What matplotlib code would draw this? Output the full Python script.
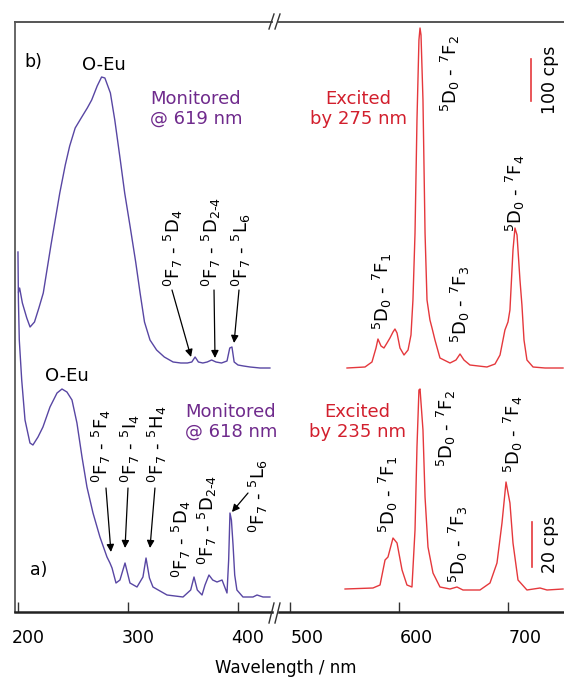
import matplotlib
matplotlib.use("Agg")
import matplotlib.pyplot as plt
import matplotlib.transforms as mtransforms
from matplotlib.lines import Line2D

plt.rcParams['font.family'] = ['DejaVu Sans']
plt.rcParams['mathtext.fontset'] = 'dejavusans'

# ---------------- data ----------------
# (a) excitation spectrum, monitored @ 618 nm (arbitrary units)
a_exc_nm = [200.0, 200.4, 201.2, 203.4, 206.4, 210.9, 213.6, 218.2, 222.7, 229.1,
            235.5, 240.0, 244.5, 249.1, 253.6, 258.2, 262.7, 268.2, 274.5, 280.9,
            283.6, 285.5, 289.1, 292.7, 297.3, 301.8, 308.2, 313.6, 316.4, 319.5,
            322.7, 335.5, 350.0, 357.0, 360.0, 363.0, 367.3, 370.0, 373.6, 377.0,
            380.9, 385.5, 390.0, 391.5, 392.7, 394.0, 395.5, 397.0, 399.0, 404.5,
            413.6, 417.3, 422.7, 429.0]
a_exc_int = [360, 312, 272, 232, 192, 169, 167, 175, 185, 205,
             219, 223, 220, 212, 189, 155, 125, 99, 75, 55,
             49, 44, 29, 32, 49, 29, 25, 35, 54, 34,
             25, 17, 15, 22, 35, 22, 17, 27, 37, 32,
             30, 32, 19, 52, 99, 92, 67, 37, 22, 15,
             15, 17, 15, 15]

# (b) excitation spectrum, monitored @ 619 nm (offset, arbitrary units)
b_exc_nm = [200.5, 201.5, 204, 208, 211, 215, 219, 223, 230, 238,
            243, 247, 252, 258, 263, 267, 272, 276, 279, 284, 288,
            293, 297, 302, 307, 311, 315, 320, 326, 333, 341,
            348, 354, 358, 361, 364, 368, 372, 376, 380, 385,
            390, 392.5, 394.5, 396.5, 400, 405, 411, 420, 429]
b_exc_int = [320, 324, 309, 294, 285, 290, 304, 319, 367, 419,
             447, 466, 484, 495, 504, 512, 526, 535, 534, 519, 492,
             452, 419, 385, 350, 319, 290, 272, 262, 255, 250,
             249, 249, 250, 255, 250, 249, 250, 252, 250, 249,
             251, 264, 265, 250, 247, 246, 245, 244, 244]

# (a) emission spectrum, excited by 235 nm
a_em_nm = [550.5, 576.1, 582.6, 587.2, 589.9, 594.5, 598.2, 602.8, 607.3, 611.9,
           614.7, 616.5, 618.3, 619.3, 622.0, 623.9, 626.6, 631.2, 637.6, 646.8,
           653.2, 658.7, 674.3, 683.5, 689.9, 694.5, 698.2, 701.8, 704.6, 709.2,
           717.4, 729.4, 735.8, 750.5]
a_em_int = [23, 24, 27, 52, 55, 74, 69, 42, 27, 25,
            82, 165, 222, 223, 182, 115, 65, 39, 25, 23,
            25, 22, 22, 29, 49, 89, 130, 109, 69, 32,
            22, 24, 22, 23]

# (b) emission spectrum, excited by 275 nm (offset)
b_em_nm = [552.3, 568.8, 575.2, 578.9, 580.7, 583.5, 586.2, 589.0, 591.7, 594.5,
           596.3, 598.2, 600.9, 604.6, 608.3, 611.0, 612.8, 614.7, 616.5, 618.3,
           619.3, 620.2, 622.0, 623.9, 625.7, 628.4, 630.3, 633.0, 637.6, 646.8,
           652.3, 656.0, 659.6, 665.1, 680.7, 688.1, 692.7, 695.4, 697.2, 700.0,
           701.8, 704.6, 706.4, 708.3, 711.0, 712.8, 714.7, 717.4, 723.0, 734.0,
           750.5]
b_em_int = [244, 245, 250, 264, 273, 266, 264, 269, 274, 280,
            283, 279, 264, 257, 262, 277, 312, 379, 492, 572,
            584, 577, 512, 379, 312, 292, 284, 272, 254, 249,
            252, 258, 252, 247, 245, 248, 257, 272, 282, 290,
            302, 362, 384, 377, 332, 307, 272, 252, 245, 244,
            244]

left_ticks = [200, 300, 400]
right_ticks = [500, 600, 700]
xlabel = "Wavelength / nm"

# scale bars: (position nm, bottom, length, label)
bar_top = (721.0, 511, 42, "100 cps")
bar_bot = (722.0, 45, 45, "20 cps")

# ---------------- styling ----------------
PURPLE_LINE = "#5846a3"
PURPLE_TEXT = "#6f2a8c"
RED_LINE = "#e5383c"
RED_TEXT = "#d21f2d"

W, H = 564, 680
fig = plt.figure(figsize=(W / 100, H / 100), dpi=100)

y0 = (H - 612) / H
hgt = (612 - 22) / H
axL = fig.add_axes([15 / W, y0, (272 - 15) / W, hgt])
axR = fig.add_axes([279 / W, y0, (564 - 279) / W, hgt])

for ax in (axL, axR):
    ax.set_ylim(0, 590)
    ax.set_yticks([])
    ax.spines['right'].set_visible(False)
    ax.spines['top'].set_color('#555555')
    ax.spines['top'].set_linewidth(1.4)
    ax.spines['bottom'].set_color('#222222')
    ax.spines['bottom'].set_linewidth(1.8)
    ax.tick_params(axis='x', direction='in', length=7, width=1.0, color='#333333',
                   labelsize=12.5, pad=12, top=False)
    ax.patch.set_alpha(0)
axL.spines['left'].set_color('#666666')
axL.spines['left'].set_linewidth(1.4)
axR.spines['left'].set_visible(False)

axL.set_xlim(197.3, 430.9)
axR.set_xlim(489.9, 751.4)
axL.set_xticks(left_ticks)
axR.set_xticks(right_ticks)

axL.plot(a_exc_nm, a_exc_int, color=PURPLE_LINE, lw=1.0)
axL.plot(b_exc_nm, b_exc_int, color=PURPLE_LINE, lw=1.0)
axR.plot(a_em_nm, a_em_int, color=RED_LINE, lw=1.0)
axR.plot(b_em_nm, b_em_int, color=RED_LINE, lw=1.0)

# shift tick labels like the original
for ax, dx in ((axL, 10), (axR, 17)):
    off = mtransforms.ScaledTranslation(dx / 100, 0, fig.dpi_scale_trans)
    for lab in ax.get_xticklabels():
        lab.set_transform(lab.get_transform() + off)

fig.text(286 / W, 1 - 668 / H, xlabel, ha='center', va='center', fontsize=12)

FS = 12.5
# ---- left panel texts ----
axL.text(213.6, 550, "b)", ha='center', va='center', fontsize=FS)
axL.text(219.1, 42, "a)", ha='center', va='center', fontsize=FS)
axL.text(278.2, 547, "O-Eu", ha='center', va='center', fontsize=13)
axL.text(244.5, 236, "O-Eu", ha='center', va='center', fontsize=13)
axL.text(361.8, 503, "Monitored\n@ 619 nm", ha='center', va='center',
         fontsize=13, color=PURPLE_TEXT, linespacing=1.1)
axL.text(393.6, 190, "Monitored\n@ 618 nm", ha='center', va='center',
         fontsize=13, color=PURPLE_TEXT, linespacing=1.1)

RFS = 13

def rlab(ax, x, y, s, fs=RFS):
    ax.text(x, y, s, rotation=90, ha='center', va='bottom', fontsize=fs)

def arrow(ax, x1, y1, x2, y2):
    ax.annotate("", xy=(x2, y2), xytext=(x1, y1),
                arrowprops=dict(arrowstyle='-|>', color='black', lw=0.9,
                                mutation_scale=11, shrinkA=0, shrinkB=0))

rlab(axL, 341.4, 325, r"$^{0}$F$_{7}$ - $^{5}$D$_{4}$")
rlab(axL, 375.5, 325, r"$^{0}$F$_{7}$ - $^{5}$D$_{2\text{-}4}$")
rlab(axL, 403.2, 325, r"$^{0}$F$_{7}$ - $^{5}$L$_{6}$")
arrow(axL, 340.0, 322, 357.3, 255)
arrow(axL, 378.2, 322, 379.1, 254)
arrow(axL, 400.9, 322, 396.4, 269)

rlab(axL, 275.5, 129, r"$^{0}$F$_{7}$ - $^{5}$F$_{4}$")
rlab(axL, 301.8, 129, r"$^{0}$F$_{7}$ - $^{5}$I$_{4}$")
rlab(axL, 326.8, 129, r"$^{0}$F$_{7}$ - $^{5}$H$_{4}$")
arrow(axL, 280.0, 124, 284.5, 60)
arrow(axL, 300.0, 124, 297.3, 64)
arrow(axL, 324.5, 124, 320.0, 64)
rlab(axL, 348.2, 34, r"$^{0}$F$_{7}$ - $^{5}$D$_{4}$")
rlab(axL, 371.8, 47, r"$^{0}$F$_{7}$ - $^{5}$D$_{2\text{-}4}$")
rlab(axL, 418.2, 79, r"$^{0}$F$_{7}$ - $^{5}$L$_{6}$")
arrow(axL, 409.1, 119, 394.5, 100)

# ---- right panel texts ----
axR.text(562.4, 503, "Excited\nby 275 nm", ha='center', va='center',
         fontsize=13, color=RED_TEXT, linespacing=1.1)
axR.text(561.5, 190, "Excited\nby 235 nm", ha='center', va='center',
         fontsize=13, color=RED_TEXT, linespacing=1.1)

rlab(axR, 646.8, 500, r"$^{5}$D$_{0}$ - $^{7}$F$_{2}$")
rlab(axR, 584.4, 282, r"$^{5}$D$_{0}$ - $^{7}$F$_{1}$")
rlab(axR, 656.0, 269, r"$^{5}$D$_{0}$ - $^{7}$F$_{3}$")
rlab(axR, 706.4, 380, r"$^{5}$D$_{0}$ - $^{7}$F$_{4}$")
rlab(axR, 589.9, 79, r"$^{5}$D$_{0}$ - $^{7}$F$_{1}$")
rlab(axR, 644.0, 145, r"$^{5}$D$_{0}$ - $^{7}$F$_{2}$")
rlab(axR, 654.1, 29, r"$^{5}$D$_{0}$ - $^{7}$F$_{3}$")
rlab(axR, 704.6, 139, r"$^{5}$D$_{0}$ - $^{7}$F$_{4}$")

for (xb, yb, lb, txt) in (bar_top, bar_bot):
    axR.plot([xb, xb], [yb, yb + lb], color=RED_LINE, lw=1.2)
    axR.text(738.5, yb + lb / 2, txt, rotation=90, ha='center', va='center', fontsize=12.5)

# ---- axis break marks ----
def px(x, y):
    return (x / W, 1 - y / H)

for (yt, yb) in ((29, 14), (623, 603)):
    for x in (269, 275):
        (xa, ya) = px(x, yt)
        (xb2, yb2) = px(x + 5, yb)
        fig.add_artist(Line2D([xa, xb2], [ya, yb2], color='#333333', lw=1.0,
                              transform=fig.transFigure))

fig.savefig("out.png", dpi=100)
